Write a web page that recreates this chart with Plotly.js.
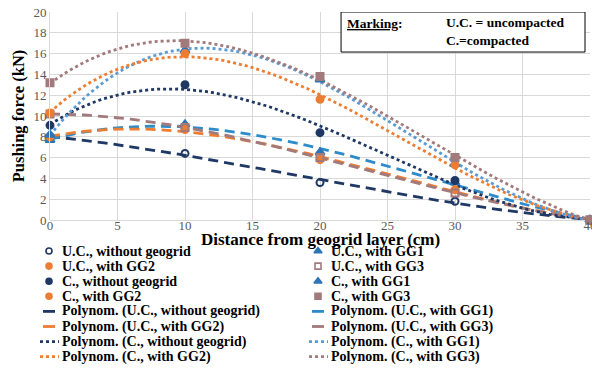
<!DOCTYPE html>
<html>
<head>
<meta charset="utf-8">
<script src="https://cdn.plot.ly/plotly-3.0.1.min.js"></script>
<style>html,body{margin:0;padding:0;background:#fff;}#chart{width:592px;height:371px;}</style>
</head>
<body>
<div id="chart"></div>
<script>
// Data
const distance = [0, 10, 20, 30, 40];
const ucWithout = [8.0, 6.4, 3.6, 1.8, 0.0];
const ucGG1 = [7.7, 9.2, 6.5, 3.6, 0.0];
const ucGG2 = [8.0, 8.7, 5.8, 2.9, 0.0];
const ucGG3 = [10.2, 8.9, 6.0, 2.6, 0.0];
const cWithout = [9.1, 13.0, 8.4, 3.8, 0.0];
const cGG1 = [8.2, 16.3, 13.5, 5.4, 0.0];
const cGG2 = [10.3, 16.0, 11.6, 5.3, 0.0];
const cGG3 = [13.2, 17.0, 13.8, 6.0, 0.0];
const seriesNames = ["U.C., without geogrid", "U.C., with GG1", "U.C., with GG2", "U.C., with GG3",
                     "C., without geogrid", "C., with GG1", "C., with GG2", "C., with GG3"];
const xTicks = [0, 5, 10, 15, 20, 25, 30, 35, 40];
const yTicks = [0, 2, 4, 6, 8, 10, 12, 14, 16, 18, 20];
const xTitle = "Distance from geogrid layer (cm)";
const yTitle = "Pushing force (kN)";

const navy = "#1f3864", blue = "#2e75b6", orange = "#ed7d31", mauve = "#a27a7c", lightBlue = "#5b9bd5";
const styles = [
  {sym: "circle-open", mcolor: navy, dash: "dash", lcolor: navy},
  {sym: "triangle-up", mcolor: blue, dash: "dash", lcolor: "#2e8bc9"},
  {sym: "circle", mcolor: orange, dash: "dash", lcolor: orange},
  {sym: "square-open", mcolor: mauve, dash: "dash", lcolor: mauve},
  {sym: "circle", mcolor: navy, dash: "dot", lcolor: navy},
  {sym: "triangle-up", mcolor: blue, dash: "dot", lcolor: lightBlue},
  {sym: "circle", mcolor: orange, dash: "dot", lcolor: orange},
  {sym: "square", mcolor: mauve, dash: "dot", lcolor: mauve}
];
const allSeries = [ucWithout, ucGG1, ucGG2, ucGG3, cWithout, cGG1, cGG2, cGG3];

// Polynomial (order 3) least-squares trendline, like the spreadsheet's "Polynom." trendline
function polyFit(xs, ys, order) {
  const n = order + 1;
  const A = Array.from({length: n}, () => new Array(n + 1).fill(0));
  for (let r = 0; r < n; r++) {
    for (let c = 0; c < n; c++) {
      let s = 0; xs.forEach(x => s += Math.pow(x, r + c)); A[r][c] = s;
    }
    let s = 0; xs.forEach((x, i) => s += Math.pow(x, r) * ys[i]); A[r][n] = s;
  }
  for (let i = 0; i < n; i++) {
    let p = i;
    for (let k = i + 1; k < n; k++) if (Math.abs(A[k][i]) > Math.abs(A[p][i])) p = k;
    [A[i], A[p]] = [A[p], A[i]];
    for (let k = i + 1; k < n; k++) {
      const f = A[k][i] / A[i][i];
      for (let j = i; j <= n; j++) A[k][j] -= f * A[i][j];
    }
  }
  const coef = new Array(n).fill(0);
  for (let i = n - 1; i >= 0; i--) {
    let s = A[i][n];
    for (let j = i + 1; j < n; j++) s -= A[i][j] * coef[j];
    coef[i] = s / A[i][i];
  }
  return coef;
}
const fitX = [];
for (let x = distance[0]; x <= distance[distance.length - 1] + 1e-9; x += 0.5) fitX.push(x);

const font = "Liberation Serif";
const lineTraces = [], markerTraces = [], legendTraces = [], legendAnnots = [];

// Legend layout (pixel coordinates on a hidden helper axis)
const legRow0 = 251, legStep = 15.1;
const legCols = [{sym: 49, text: 60}, {sym: 318, text: 329}];

allSeries.forEach((ys, i) => {
  const st = styles[i];
  const msize = st.sym.indexOf("triangle") === 0 ? 8 : 7;
  markerTraces.push({
    x: distance, y: ys, type: "scatter", mode: "markers", name: seriesNames[i],
    marker: {symbol: st.sym, color: st.mcolor, size: msize, line: {color: st.mcolor, width: 2}},
    cliponaxis: false, showlegend: false
  });
  const c = polyFit(distance, ys, 3);
  const fy = fitX.map(x => c[0] + c[1] * x + c[2] * x * x + c[3] * x * x * x);
  lineTraces.push({
    x: fitX, y: fy, type: "scatter", mode: "lines", name: "Polynom. (" + seriesNames[i] + ")",
    line: {color: st.lcolor, width: 2.8, dash: st.dash === "dash" ? "10px,6px" : "dot"},
    showlegend: false
  });

  // legend entries: markers rows 0-3, trendlines rows 4-7; two columns
  const col = legCols[i % 2];
  const rowM = Math.floor(i / 2), rowL = 4 + Math.floor(i / 2);
  const yM = legRow0 + legStep * rowM, yL = legRow0 + legStep * rowL;
  legendTraces.push({
    x: [col.sym], y: [yM], xaxis: "x2", yaxis: "y2", type: "scatter", mode: "markers",
    marker: {symbol: st.sym, color: st.mcolor, size: msize - 1, line: {color: st.mcolor, width: 1.6}},
    cliponaxis: false, showlegend: false, hoverinfo: "skip"
  });
  legendAnnots.push({xref: "x2", yref: "y2", x: col.text, y: yM, xanchor: "left", yanchor: "middle",
    showarrow: false, text: "<b>" + seriesNames[i] + "</b>", font: {family: font, size: 14, color: "#000"}});
  const lx = st.dash === "dash" ? [col.sym - 6, col.sym + 6] : [col.sym - 9, col.sym + 10];
  legendTraces.push({
    x: lx, y: [yL, yL], xaxis: "x2", yaxis: "y2", type: "scatter", mode: "lines",
    line: {color: st.lcolor, width: 2.8, dash: st.dash === "dash" ? "solid" : "dot"},
    showlegend: false, hoverinfo: "skip"
  });
  legendAnnots.push({xref: "x2", yref: "y2", x: col.text, y: yL, xanchor: "left", yanchor: "middle",
    showarrow: false, text: "<b>Polynom. (" + seriesNames[i] + ")</b>", font: {family: font, size: 14, color: "#000"}});
});

const W = 592, H = 371;
const plotL = 50, plotT = 12, plotB = 220;
const layout = {
  width: W, height: H,
  margin: {l: 0, r: W - 590, t: 0, b: 0},
  paper_bgcolor: "#fff", plot_bgcolor: "rgba(0,0,0,0)",
  showlegend: false,
  font: {family: font, color: "#000"},
  xaxis: {
    domain: [plotL / 590, 1], anchor: "y",
    range: [0, 40], tickvals: xTicks, ticktext: xTicks.map(String),
    showgrid: true, gridcolor: "#d9d9d9", gridwidth: 1, zeroline: false,
    showline: false, ticks: "", tickfont: {family: font, size: 13, color: "#595959"},
    ticklabelstandoff: -4,
    ticklabeloverflow: "allow", automargin: false
  },
  yaxis: {
    domain: [(H - plotB) / H, (H - plotT) / H], anchor: "x",
    range: [0, 20], tickvals: yTicks, ticktext: yTicks.map(String),
    showgrid: true, gridcolor: "#d9d9d9", gridwidth: 1, zeroline: true, zerolinecolor: "#d9d9d9",
    showline: true, linecolor: "#d9d9d9", ticks: "", tickfont: {family: font, size: 13, color: "#595959"},
    title: {text: "<b>" + yTitle + "</b>", font: {family: font, size: 16.5, color: "#000"}, standoff: 4},
    automargin: false
  },
  xaxis2: {domain: [0, 1], anchor: "y2", range: [0, 590], visible: false, fixedrange: true},
  yaxis2: {domain: [0, 0.4], anchor: "x2", range: [H, H - 0.4 * H], visible: false, fixedrange: true},
  shapes: [{type: "rect", xref: "x", yref: "y", x0: 21.56, x1: 39.63, y0: 16.15, y1: 20,
            line: {color: "#000", width: 1}, fillcolor: "#fff", layer: "above"}],
  annotations: [
    {xref: "x2", yref: "y2", x: 320, y: 239, xanchor: "center", yanchor: "middle", showarrow: false,
     text: "<b>" + xTitle + "</b>", font: {family: font, size: 17, color: "#000"}, borderpad: 0},
    {xref: "x", yref: "y", x: 21.85, y: 18.85, xanchor: "left", yanchor: "middle", showarrow: false,
     text: "<b><u>Marking</u>:</b>", font: {family: font, size: 13.5, color: "#000"}},
    {xref: "x", yref: "y", x: 29.2, y: 18.1, xanchor: "left", yanchor: "middle", showarrow: false, align: "left",
     text: "<b>U.C. = uncompacted</b><br><b>C.=compacted</b>", font: {family: font, size: 13.5, color: "#000"}}
  ].concat(legendAnnots)
};
Plotly.newPlot("chart", lineTraces.concat(markerTraces).concat(legendTraces), layout, {displayModeBar: false, staticPlot: true});
</script>
</body>
</html>
